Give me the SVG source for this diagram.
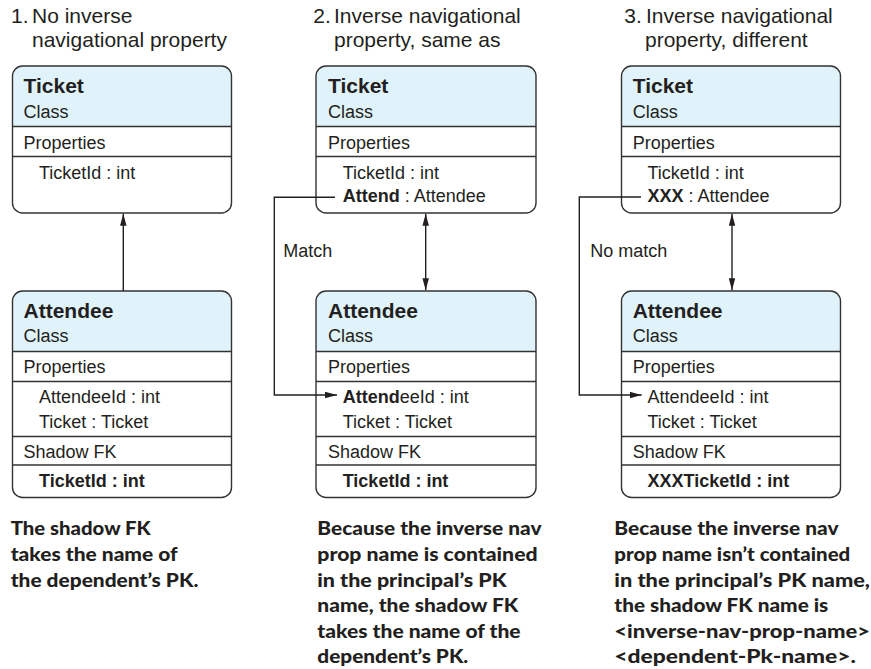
<svg xmlns="http://www.w3.org/2000/svg" width="871" height="669" viewBox="0 0 871 669">
<style>
.bg{fill:#fff;stroke:none}
.box{fill:none;stroke:#333;stroke-width:1.4}
.hdr{fill:#e0f2fa;stroke:none}
.sep{stroke:#333;stroke-width:1.4}
.t{font-family:"Liberation Sans",Arial,Helvetica,sans-serif;font-size:18px;fill:#231f20}
.nm{font-weight:bold;font-size:21px}
.b{font-weight:bold}
.ttl{font-size:21px}
.cap{font-family:Lato,"Open Sans","Liberation Sans",sans-serif;font-weight:900;font-size:19.5px;fill:#231f20}
.conn{fill:none;stroke:#231f20;stroke-width:1.4}
</style>
<defs>
<marker id="ah" markerUnits="userSpaceOnUse" markerWidth="13" markerHeight="7" refX="12" refY="3.25" orient="auto-start-reverse">
<path d="M0,0 L12,3.25 L0,6.5 z" fill="#231f20"/>
</marker>
</defs>

<!-- titles -->
<g id="titles" class="t ttl">
<text x="11" y="23">1.</text><text x="32" y="23">No inverse</text>
<text x="32" y="47">navigational property</text>
<text x="313.3" y="23">2.</text><text x="334" y="23">Inverse navigational</text>
<text x="334" y="47">property, same as</text>
<text x="624.3" y="23">3.</text><text x="646" y="23">Inverse navigational</text>
<text x="645" y="47">property, different</text>
</g>

<!-- Column 1 -->
<g id="ticket1">
<rect class="bg" x="12.5" y="66" width="219" height="147" rx="10"/>
<path class="hdr" d="M12.5,126.5 V76 A10,10 0 0 1 22.5,66 H221.5 A10,10 0 0 1 231.5,76 V126.5 Z"/>
<line class="sep" x1="12.5" y1="126.5" x2="231.5" y2="126.5"/>
<line class="sep" x1="12.5" y1="156.5" x2="231.5" y2="156.5"/>
<rect class="box" x="12.5" y="66" width="219" height="147" rx="10"/>
<text class="t nm" x="23.5" y="93">Ticket</text>
<text class="t" x="23.5" y="118">Class</text>
<text class="t" x="23.5" y="149">Properties</text>
<text class="t" x="39" y="179">TicketId : int</text>
</g>
<g id="attendee1">
<rect class="bg" x="12.5" y="291" width="219" height="206.5" rx="10"/>
<path class="hdr" d="M12.5,351.5 V301 A10,10 0 0 1 22.5,291 H221.5 A10,10 0 0 1 231.5,301 V351.5 Z"/>
<line class="sep" x1="12.5" y1="351.5" x2="231.5" y2="351.5"/>
<line class="sep" x1="12.5" y1="381.5" x2="231.5" y2="381.5"/>
<line class="sep" x1="12.5" y1="436.5" x2="231.5" y2="436.5"/>
<line class="sep" x1="12.5" y1="465" x2="231.5" y2="465"/>
<rect class="box" x="12.5" y="291" width="219" height="206.5" rx="10"/>
<text class="t nm" x="23.5" y="318">Attendee</text>
<text class="t" x="23.5" y="342">Class</text>
<text class="t" x="23.5" y="373">Properties</text>
<text class="t" x="39" y="403">AttendeeId : int</text>
<text class="t" x="39" y="428">Ticket : Ticket</text>
<text class="t" x="23.5" y="458">Shadow FK</text>
<text class="t b" x="39" y="487">TicketId : int</text>
</g>

<!-- Column 2 -->
<g id="ticket2">
<rect class="bg" x="316" y="66" width="220" height="147" rx="10"/>
<path class="hdr" d="M316,126.5 V76 A10,10 0 0 1 326,66 H526 A10,10 0 0 1 536,76 V126.5 Z"/>
<line class="sep" x1="316" y1="126.5" x2="536" y2="126.5"/>
<line class="sep" x1="316" y1="156.5" x2="536" y2="156.5"/>
<rect class="box" x="316" y="66" width="220" height="147" rx="10"/>
<text class="t nm" x="328" y="93">Ticket</text>
<text class="t" x="328" y="118">Class</text>
<text class="t" x="328" y="149">Properties</text>
<text class="t" x="342.7" y="179">TicketId : int</text>
<text class="t" x="342.7" y="202"><tspan class="b">Attend</tspan> : Attendee</text>
</g>
<g id="attendee2">
<rect class="bg" x="316" y="291" width="220" height="206.5" rx="10"/>
<path class="hdr" d="M316,351.5 V301 A10,10 0 0 1 326,291 H526 A10,10 0 0 1 536,301 V351.5 Z"/>
<line class="sep" x1="316" y1="351.5" x2="536" y2="351.5"/>
<line class="sep" x1="316" y1="381.5" x2="536" y2="381.5"/>
<line class="sep" x1="316" y1="436.5" x2="536" y2="436.5"/>
<line class="sep" x1="316" y1="465" x2="536" y2="465"/>
<rect class="box" x="316" y="291" width="220" height="206.5" rx="10"/>
<text class="t nm" x="328" y="318">Attendee</text>
<text class="t" x="328" y="342">Class</text>
<text class="t" x="328" y="373">Properties</text>
<text class="t" x="342.7" y="403"><tspan class="b">Attend</tspan>eeId : int</text>
<text class="t" x="342.7" y="428">Ticket : Ticket</text>
<text class="t" x="328" y="458">Shadow FK</text>
<text class="t b" x="342.7" y="487">TicketId : int</text>
</g>

<!-- Column 3 -->
<g id="ticket3">
<rect class="bg" x="621.5" y="66" width="219" height="147" rx="10"/>
<path class="hdr" d="M621.5,126.5 V76 A10,10 0 0 1 631.5,66 H830.5 A10,10 0 0 1 840.5,76 V126.5 Z"/>
<line class="sep" x1="621.5" y1="126.5" x2="840.5" y2="126.5"/>
<line class="sep" x1="621.5" y1="156.5" x2="840.5" y2="156.5"/>
<rect class="box" x="621.5" y="66" width="219" height="147" rx="10"/>
<text class="t nm" x="632.7" y="93">Ticket</text>
<text class="t" x="632.7" y="118">Class</text>
<text class="t" x="632.7" y="149">Properties</text>
<text class="t" x="647.5" y="179">TicketId : int</text>
<text class="t" x="647.5" y="202"><tspan class="b">XXX</tspan> : Attendee</text>
</g>
<g id="attendee3">
<rect class="bg" x="621.5" y="291" width="219" height="206.5" rx="10"/>
<path class="hdr" d="M621.5,351.5 V301 A10,10 0 0 1 631.5,291 H830.5 A10,10 0 0 1 840.5,301 V351.5 Z"/>
<line class="sep" x1="621.5" y1="351.5" x2="840.5" y2="351.5"/>
<line class="sep" x1="621.5" y1="381.5" x2="840.5" y2="381.5"/>
<line class="sep" x1="621.5" y1="436.5" x2="840.5" y2="436.5"/>
<line class="sep" x1="621.5" y1="465" x2="840.5" y2="465"/>
<rect class="box" x="621.5" y="291" width="219" height="206.5" rx="10"/>
<text class="t nm" x="632.7" y="318">Attendee</text>
<text class="t" x="632.7" y="342">Class</text>
<text class="t" x="632.7" y="373">Properties</text>
<text class="t" x="647.5" y="403">AttendeeId : int</text>
<text class="t" x="647.5" y="428">Ticket : Ticket</text>
<text class="t" x="632.7" y="458">Shadow FK</text>
<text class="t b" x="647.5" y="487">XXXTicketId : int</text>
</g>

<!-- connectors -->
<g id="connectors">
<line class="conn" x1="123.3" y1="291" x2="123.3" y2="213.8" marker-end="url(#ah)"/>
<line class="conn" x1="425.7" y1="213.8" x2="425.7" y2="290.3" marker-start="url(#ah)" marker-end="url(#ah)"/>
<line class="conn" x1="732" y1="213.8" x2="732" y2="290.3" marker-start="url(#ah)" marker-end="url(#ah)"/>
<path class="conn" d="M335,197.3 H274.3 V395 H337" marker-end="url(#ah)"/>
<path class="conn" d="M641,197 H579.3 V395 H641.7" marker-end="url(#ah)"/>
<text class="t" x="283.3" y="256.7">Match</text>
<text class="t" x="590.3" y="256.7">No match</text>
</g>

<!-- captions -->
<g id="captions" class="cap">
<text x="10.7" y="535" textLength="140" lengthAdjust="spacingAndGlyphs">The shadow FK</text>
<text x="10.7" y="560.5" textLength="167" lengthAdjust="spacingAndGlyphs">takes the name of</text>
<text x="10.7" y="586.5" textLength="187.7" lengthAdjust="spacingAndGlyphs">the dependent’s PK.</text>

<text x="317.3" y="535" textLength="224.3" lengthAdjust="spacingAndGlyphs">Because the inverse nav</text>
<text x="317.3" y="560.5" textLength="220.3" lengthAdjust="spacingAndGlyphs">prop name is contained</text>
<text x="317.3" y="586.5" textLength="189.3" lengthAdjust="spacingAndGlyphs">in the principal’s PK</text>
<text x="317.3" y="612" textLength="201" lengthAdjust="spacingAndGlyphs">name, the shadow FK</text>
<text x="317.3" y="637.5" textLength="203.3" lengthAdjust="spacingAndGlyphs">takes the name of the</text>
<text x="317.3" y="663" textLength="151" lengthAdjust="spacingAndGlyphs">dependent’s PK.</text>

<text x="614.3" y="535" textLength="224.3" lengthAdjust="spacingAndGlyphs">Because the inverse nav</text>
<text x="614.3" y="560.5" textLength="236" lengthAdjust="spacingAndGlyphs">prop name isn’t contained</text>
<text x="614.3" y="586.5" textLength="255.7" lengthAdjust="spacingAndGlyphs">in the principal’s PK name,</text>
<text x="614.3" y="612" textLength="214" lengthAdjust="spacingAndGlyphs">the shadow FK name is</text>
<text x="614.3" y="637.5" textLength="255.7" lengthAdjust="spacingAndGlyphs">&lt;inverse-nav-prop-name&gt;</text>
<text x="614.3" y="663" textLength="241.7" lengthAdjust="spacingAndGlyphs">&lt;dependent-Pk-name&gt;.</text>
</g>
</svg>
